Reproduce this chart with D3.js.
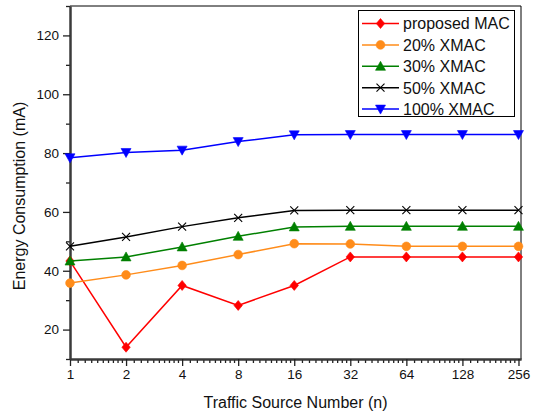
<!DOCTYPE html>
<html>
<head>
<meta charset="utf-8">
<script src="https://cdn.jsdelivr.net/npm/d3@7"></script>
<style>
  html, body { margin: 0; padding: 0; background: #fff; }
  svg { display: block; font-family: "Liberation Sans", Arial, sans-serif; }
</style>
</head>
<body>
<svg id="chart" width="536" height="415"></svg>
<script>
// Traffic source counts (x axis, log2 scale)
const sources = [1, 2, 4, 8, 16, 32, 64, 128, 256];
const xTickLabels = ["1", "2", "4", "8", "16", "32", "64", "128", "256"];
const yTicks = [20, 40, 60, 80, 100, 120];

// Energy consumption (mA) per scheme
const proposedMAC = [43.3, 14.0, 35.0, 28.2, 35.0, 44.7, 44.7, 44.7, 44.7];
const xmac20 = [35.8, 38.6, 41.8, 45.5, 49.2, 49.1, 48.3, 48.3, 48.3];
const xmac30 = [43.3, 44.7, 48.1, 51.7, 54.9, 55.1, 55.1, 55.1, 55.1];
const xmac50 = [48.3, 51.5, 55.0, 58.0, 60.5, 60.6, 60.6, 60.6, 60.6];
const xmac100 = [78.4, 80.2, 81.0, 83.9, 86.2, 86.3, 86.3, 86.3, 86.3];

const seriesNames = ["proposed MAC", "20% XMAC", "30% XMAC", "50% XMAC", "100% XMAC"];
const seriesValues = [proposedMAC, xmac20, xmac30, xmac50, xmac100];
const seriesColors = ["#ff0000", "#ff8c1a", "#008000", "#000000", "#0000ff"];
const seriesMarkers = ["diamond", "circle", "triangle", "cross", "triangleDown"];

const margin = { left: 70, right: 15, top: 6, bottom: 56 };
const W = 536, H = 415;
const svg = d3.select("#chart");

const x = d3.scaleLog().base(2)
  .domain([1, Math.pow(2, 8.045)])
  .range([margin.left, W - margin.right]);
const y = d3.scaleLinear()
  .domain([10, 130])
  .range([H - margin.bottom, margin.top]);

const x0 = x.range()[0], x1 = x.range()[1];
const y0 = y.range()[0], y1 = y.range()[1];

// Frame: thin top/right border
svg.append("path")
  .attr("d", `M${x0},${y1}H${x1}V${y0}`)
  .attr("fill", "none").attr("stroke", "#000").attr("stroke-width", 1);

// Minor ticks on the x axis: linear steps inside each octave
const xMinor = [];
for (let k = 0; k < 8; k++) {
  const base = Math.pow(2, k);
  for (let i = 1; i <= 9; i++) xMinor.push(base * (1 + i / 10));
}
const yMinor = d3.range(10, 131, 20);

const xAxis = d3.axisBottom(x)
  .tickValues(sources)
  .tickFormat((d, i) => xTickLabels[i])
  .tickSize(7).tickSizeOuter(0).tickPadding(3);
const xAxisMinor = d3.axisBottom(x)
  .tickValues(xMinor).tickFormat("")
  .tickSize(4).tickSizeOuter(0);

const yAxis = d3.axisLeft(y)
  .tickValues(yTicks)
  .tickSize(7).tickSizeOuter(0).tickPadding(4);
const yAxisMinor = d3.axisLeft(y)
  .tickValues(yMinor).tickFormat("")
  .tickSize(4).tickSizeOuter(0);

function styleAxis(g) {
  g.selectAll(".domain").attr("stroke", "#3a3a3a").attr("stroke-width", 2);
  g.selectAll(".tick line").attr("stroke", "#222").attr("stroke-width", 1.3);
  g.selectAll("text").attr("fill", "#111").style("font-size", "13.5px")
    .style("font-family", "'Liberation Sans', Arial, sans-serif");
}

svg.append("g").attr("transform", `translate(0,${y0})`).call(xAxisMinor).call(styleAxis);
svg.append("g").attr("transform", `translate(0,${y0})`).call(xAxis).call(styleAxis);
svg.append("g").attr("transform", `translate(${x0},0)`).call(yAxisMinor).call(styleAxis);
svg.append("g").attr("transform", `translate(${x0},0)`).call(yAxis).call(styleAxis);

// Axis titles
svg.append("text")
  .attr("x", (x0 + x1) / 2).attr("y", 408)
  .attr("text-anchor", "middle")
  .style("font-size", "16px").attr("fill", "#111")
  .text("Traffic Source Number (n)");
svg.append("text")
  .attr("transform", `translate(25,196) rotate(-90)`)
  .attr("text-anchor", "middle")
  .style("font-size", "16px").attr("fill", "#111")
  .text("Energy Consumption (mA)");

// Marker shapes
function markerPath(type) {
  switch (type) {
    case "diamond": return "M0,-5L4.2,0L0,5L-4.2,0Z";
    case "circle": return d3.symbol(d3.symbolCircle, 60)();
    case "triangle": return "M0,-5L5,4L-5,4Z";
    case "triangleDown": return "M0,5L5,-4L-5,-4Z";
    case "cross": return "M-4,-4L4,4M-4,4L4,-4";
  }
}
function drawMarker(g, type, color, cx, cy) {
  const p = g.append("path")
    .attr("d", markerPath(type))
    .attr("transform", `translate(${cx},${cy})`);
  if (type === "cross") {
    p.attr("fill", "none").attr("stroke", color).attr("stroke-width", 1.1);
  } else {
    p.attr("fill", color).attr("stroke", color).attr("stroke-width", 0.6);
  }
}

const line = d3.line()
  .x((d, i) => x(sources[i]))
  .y(d => y(d));

const plot = svg.append("g");
seriesValues.forEach((vals, s) => {
  const g = plot.append("g");
  g.append("path")
    .datum(vals)
    .attr("d", line)
    .attr("fill", "none")
    .attr("stroke", seriesColors[s])
    .attr("stroke-width", 1.5);
  vals.forEach((v, i) => drawMarker(g, seriesMarkers[s], seriesColors[s], x(sources[i]), y(v)));
});

// Legend
const lg = svg.append("g");
lg.append("rect")
  .attr("x", 358.5).attr("y", 10.5)
  .attr("width", 156).attr("height", 106)
  .attr("fill", "#fff").attr("stroke", "#000").attr("stroke-width", 1);
seriesNames.forEach((name, s) => {
  const cy = 23.5 + s * 21.4;
  lg.append("line")
    .attr("x1", 362).attr("x2", 399).attr("y1", cy).attr("y2", cy)
    .attr("stroke", seriesColors[s]).attr("stroke-width", 1.5);
  drawMarker(lg, seriesMarkers[s], seriesColors[s], 380.5, cy);
  lg.append("text")
    .attr("x", 403).attr("y", cy + 5.8)
    .style("font-size", "16px").attr("fill", "#111")
    .text(name);
});
</script>
</body>
</html>
